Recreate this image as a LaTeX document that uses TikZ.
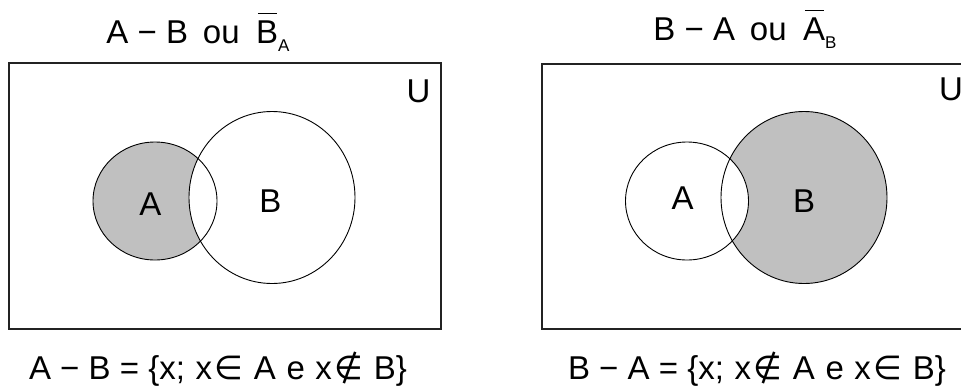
\documentclass[tikz,border=0pt]{standalone}
\usepackage{fontspec}
\setmainfont{Liberation Sans}
\newfontfamily\symf{DejaVu Sans}
\definecolor{areagray}{RGB}{192,192,192}
\definecolor{framecol}{RGB}{35,35,35}
\newcommand\ovbar[1]{\setbox0\hbox{#1}\rlap{\hbox to \wd0{\hss\rule[29pt]{0.85\wd0}{1.4pt}\hss}}\box0}
\newcommand\subtx[1]{\raisebox{-8pt}{\fontsize{17}{20}\selectfont #1}}
\newcommand\gap{\hspace{0.32em}}
\begin{document}
\begin{tikzpicture}[x=1pt,y=-1pt,
  lbl/.style={font=\fontsize{33}{38}\selectfont, inner sep=0pt, anchor=base},
  universe/.style={draw=framecol, line width=1.7pt},
  setline/.style={draw=black, line width=0.9pt}]
\useasboundingbox (0,0) rectangle (961,389);
\clip (0,0) rectangle (961,389);
% ---------- left diagram: A - B ----------
\draw[universe] (9,63) rectangle (441,329);
\fill[areagray] (155,201) ellipse [x radius=62, y radius=59];
\fill[white] (272,197.5) ellipse [x radius=83, y radius=86];
\draw[setline] (155,201) ellipse [x radius=62, y radius=59];
\draw[setline] (272,197.5) ellipse [x radius=83, y radius=86];
\node[lbl] (tA) at (198,43) {A − B\hspace{0.45em}ou\hspace{0.5em}\ovbar{B}\subtx{A}};
\node[lbl] (uL) at (418.5,102) {U};
\node[lbl] (aL) at (150.5,215) {A};
\node[lbl] (bL) at (270.5,212) {B};
\node[lbl] (fA) at (218,379) {A − B = \{x;\gap x\hspace{0.08em}{\symf ∈}\gap A\gap e\gap x\hspace{0.08em}{\symf ∉}\gap B\}};
% ---------- right diagram: B - A ----------
\draw[universe] (542,64) rectangle (975,329);
\fill[areagray] (804,197.5) ellipse [x radius=83, y radius=86];
\fill[white] (687,201) ellipse [x radius=61.5, y radius=59];
\draw[setline] (687,201) ellipse [x radius=61.5, y radius=59];
\draw[setline] (804,197.5) ellipse [x radius=83, y radius=86];
\node[lbl] (tB) at (745,40) {B − A\hspace{0.45em}ou\hspace{0.5em}\ovbar{A}\subtx{B}};
\node[lbl] (uR) at (951,100) {U};
\node[lbl] (aR) at (682.5,209) {A};
\node[lbl] (bR) at (804,212) {B};
\node[lbl] (fB) at (757,379) {B − A = \{x;\gap x\hspace{0.08em}{\symf ∉}\gap A\gap e\gap x\hspace{0.08em}{\symf ∈}\gap B\}};
\end{tikzpicture}
\end{document}
